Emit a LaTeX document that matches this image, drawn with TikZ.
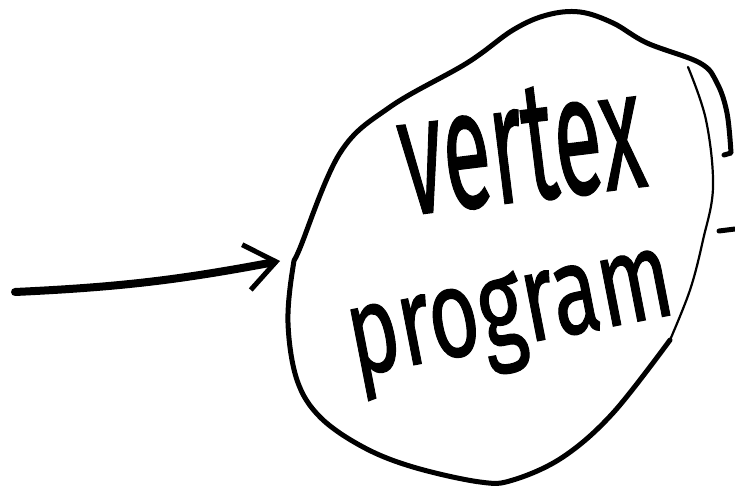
\documentclass[tikz,border=0pt]{standalone}
\usepackage{fontspec}
\setmainfont{Fira Sans}[FakeBold=1]
\usetikzlibrary{arrows.meta}
\tikzset{pen/.style={line width=5pt, line cap=round, line join=round},
  flow/.style={line width=8pt, line cap=round, -{Straight Barb[length=30pt,width=46pt,line width=5pt]}}}

\begin{document}
\begin{tikzpicture}[x=1pt, y=-1pt]
      \useasboundingbox (0,0) rectangle (735,489);

      % the blob
      \draw [pen, line width=2.2pt] plot [smooth, tension=0.6] coordinates {(688,67) (706,120) (713,187) (703,240) (690,290) (670,340)};
      \draw [pen] plot [smooth, tension=0.6] coordinates {(670,340) (613,413) (563,457) (513,480) (480,482) (413,467) (363,447) (320,417) (297,380) (288,323) (293,267) (300,248) (340,153) (390,107) (467,63) (513,30) (547,15) (580,12) (613,23) (647,43) (700,63) (717,83) (727,113) (731,153)} -- (724,155);

      \node [rotate=7] (vtx) at (521,146) {\resizebox{244pt}{112pt}{vertex}};
      \node [rotate=11] (prog) at (512,322) {\resizebox*{328pt}{100pt}{program}};

      \coordinate (src) at (15,292);
      \coordinate (blobwest) at (280,261);
      \draw [flow] (src) to [bend right=4] (blobwest);

      \coordinate (blobeast) at (719,231);
      \coordinate (out) at (735,229);
      \draw [pen] (blobeast) -- (out);
    \end{tikzpicture}
\end{document}
